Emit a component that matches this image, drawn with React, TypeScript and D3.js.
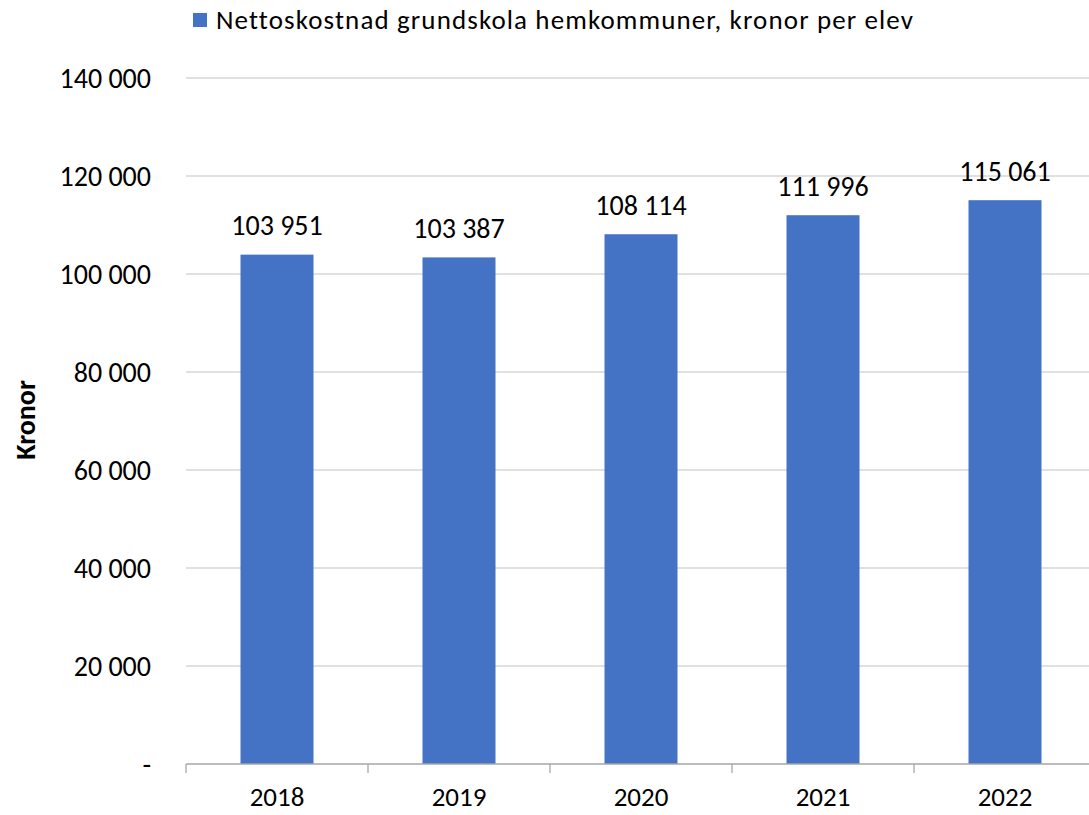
import React from "react";
import * as d3 from "d3";

const years = ["2018", "2019", "2020", "2021", "2022"];
const values = [103951, 103387, 108114, 111996, 115061];
const yTicks = [0, 20000, 40000, 60000, 80000, 100000, 120000, 140000];
const seriesName = "Nettoskostnad grundskola hemkommuner, kronor per elev";
const yTitle = "Kronor";

const W = 1089;
const H = 815;
const FONT = "Carlito, Calibri, Lato, 'Open Sans', sans-serif";
const BLUE = "#4472C4";

const fmt = (v: number) => {
  if (v === 0) return "-";
  const s = Math.round(v).toString();
  return s.replace(/\B(?=(\d{3})+(?!\d))/g, " ");
};

export default function App() {
  const xb = d3.scaleBand<string>().domain(years).range([186, 1096]);
  const y = d3.scaleLinear().domain([0, 140000]).range([764, 78]);
  const barW = 73;
  return (
    <svg width={W} height={H} style={{ position: "absolute", left: 0, top: 0, background: "#fff", fontVariantLigatures: "none" }} fontFamily={FONT}>
      <rect x={0} y={0} width={W} height={H} fill="#fff" />
      {yTicks.filter((t) => t > 0).map((t) => (
        <line key={t} x1={186} x2={1096} y1={y(t)} y2={y(t)} stroke="#d6d6d6" strokeWidth={1.3} />
      ))}
      {years.map((yr, i) => (
        <rect key={yr} x={xb(yr)! + xb.bandwidth() / 2 - barW / 2} width={barW} y={y(values[i])} height={y(0) - y(values[i])} fill={BLUE} />
      ))}
      <line x1={186} x2={1096} y1={y(0)} y2={y(0)} stroke="#a6a6a6" strokeWidth={1.3} />
      {d3.range(years.length + 1).map((i) => {
        const xx = 186 + i * xb.bandwidth();
        return <line key={i} x1={xx} x2={xx} y1={y(0)} y2={y(0) + 9} stroke="#a6a6a6" strokeWidth={1.3} />;
      })}
      {yTicks.map((t) => (
        <text key={t} x={151} y={y(t)} dy="0.36em" textAnchor="end" fontSize={28} fill="#000">
          {fmt(t)}
        </text>
      ))}
      {years.map((yr, i) => (
        <g key={yr}>
          <text x={xb(yr)! + xb.bandwidth() / 2} y={806} textAnchor="middle" fontSize={27} fill="#000">
            {yr}
          </text>
          <text x={xb(yr)! + xb.bandwidth() / 2} y={y(values[i]) - 19.5} textAnchor="middle" fontSize={28} fill="#000">
            {fmt(values[i])}
          </text>
        </g>
      ))}
      <text transform={`translate(35,420) rotate(-90)`} textAnchor="middle" fontSize={28} fontWeight="bold" fill="#000">
        {yTitle}
      </text>
      <rect x={193} y={13} width={14} height={14} fill={BLUE} />
      <text x={216} y={29} fontSize={27} fill="#000" textLength={697} lengthAdjust="spacing">
        {seriesName}
      </text>
    </svg>
  );
}
